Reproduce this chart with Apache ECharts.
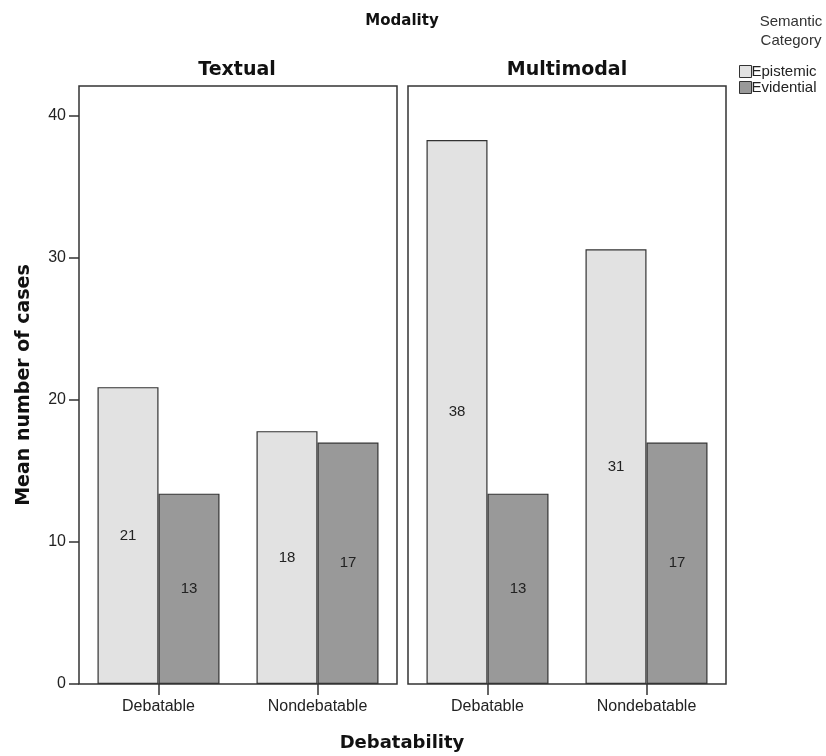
<!DOCTYPE html>
<html><head><meta charset="utf-8">
<script src="https://cdn.jsdelivr.net/npm/echarts@6/dist/echarts.min.js"></script>
<style>html,body{margin:0;padding:0;background:#fff}#c{width:826px;height:756px}</style>
</head><body><div id="c"></div>
<script>
const categories = ['Debatable', 'Nondebatable'];
const panels = ['Textual', 'Multimodal'];
const seriesNames = ['Epistemic', 'Evidential'];
const textualEpistemic = [20.9, 17.8];
const textualEvidential = [13.4, 17.0];
const multimodalEpistemic = [38.3, 30.6];
const multimodalEvidential = [13.4, 17.0];
const yTicks = [0, 10, 20, 30, 40];

const colors = {Epistemic: '#e2e2e2', Evidential: '#999999'};
const chart = echarts.init(document.getElementById('c'), null, {renderer: 'canvas'});

const grids = [
  {left: 79, right: 429, top: 86, bottom: 72},
  {left: 408, right: 100, top: 86, bottom: 72}
];
const gridOpts = grids.map(g => Object.assign({show: true, borderColor: '#333', borderWidth: 1.5, backgroundColor: 'transparent'}, g));

const xAxes = [0, 1].map(i => ({
  type: 'category', gridIndex: i, data: categories,
  axisLine: {show: false},
  axisTick: {show: true, alignWithLabel: true, length: 11, lineStyle: {color: '#333', width: 1.5}},
  axisLabel: {color: '#222', fontFamily: 'Liberation Sans', fontSize: 16, margin: 15}
}));
const yAxes = [0, 1].map(i => ({
  type: 'value', gridIndex: i, min: 0, max: 42.1,
  splitLine: {show: false},
  axisLine: {show: false},
  axisTick: {show: i === 0, length: 10, customValues: yTicks, lineStyle: {color: '#333', width: 1.5}},
  axisLabel: {show: i === 0, customValues: yTicks, color: '#222', fontFamily: 'Liberation Sans', fontSize: 16, margin: 13},
  name: i === 0 ? 'Mean number of cases' : '',
  nameLocation: 'middle', nameGap: 45, nameRotate: 90,
  nameTextStyle: {fontFamily: 'DejaVu Sans', fontWeight: 'bold', fontSize: 19, color: '#111'}
}));

function bar(name, data, idx) {
  return {
    name: name, type: 'bar', xAxisIndex: idx, yAxisIndex: idx, data: data,
    barWidth: 61, barGap: '0%',
    itemStyle: {color: colors[name], borderColor: '#333', borderWidth: 1.2},
    label: {show: true, position: 'inside', color: '#222', fontFamily: 'Liberation Sans', fontSize: 15,
      formatter: p => Math.round(p.value)},
    silent: true
  };
}

chart.setOption({
  animation: false,
  grid: gridOpts,
  xAxis: xAxes,
  yAxis: yAxes,
  legend: {
    data: seriesNames, orient: 'vertical', left: 734, top: 59, itemWidth: 12, itemHeight: 12, itemGap: 1,
    icon: 'rect',
    textStyle: {fontFamily: 'Liberation Sans', fontSize: 15, lineHeight: 15, color: '#222', padding: [0, 0, 0, -5]},
    itemStyle: {borderColor: '#333', borderWidth: 1}
  },
  title: [
    {text: 'Modality', left: 397, top: 9, textAlign: 'center', textStyle: {fontFamily: 'DejaVu Sans', fontWeight: 'bold', fontSize: 15, color: '#111'}},
    {text: panels[0], left: 232, top: 56, textAlign: 'center', textStyle: {fontFamily: 'DejaVu Sans', fontWeight: 'bold', fontSize: 19, color: '#111'}},
    {text: panels[1], left: 562, top: 56, textAlign: 'center', textStyle: {fontFamily: 'DejaVu Sans', fontWeight: 'bold', fontSize: 19, color: '#111'}},
    {text: 'Debatability', left: 397, top: 729, textAlign: 'center', textStyle: {fontFamily: 'DejaVu Sans', fontWeight: 'bold', fontSize: 18, color: '#111'}},
    {text: 'Semantic\nCategory', left: 786, top: 7, textAlign: 'center', textStyle: {fontFamily: 'Liberation Sans', fontWeight: 'normal', fontSize: 15, lineHeight: 19, color: '#333'}}
  ],
  series: [
    bar('Epistemic', textualEpistemic, 0),
    bar('Evidential', textualEvidential, 0),
    bar('Epistemic', multimodalEpistemic, 1),
    bar('Evidential', multimodalEvidential, 1)
  ]
});
</script></body></html>
